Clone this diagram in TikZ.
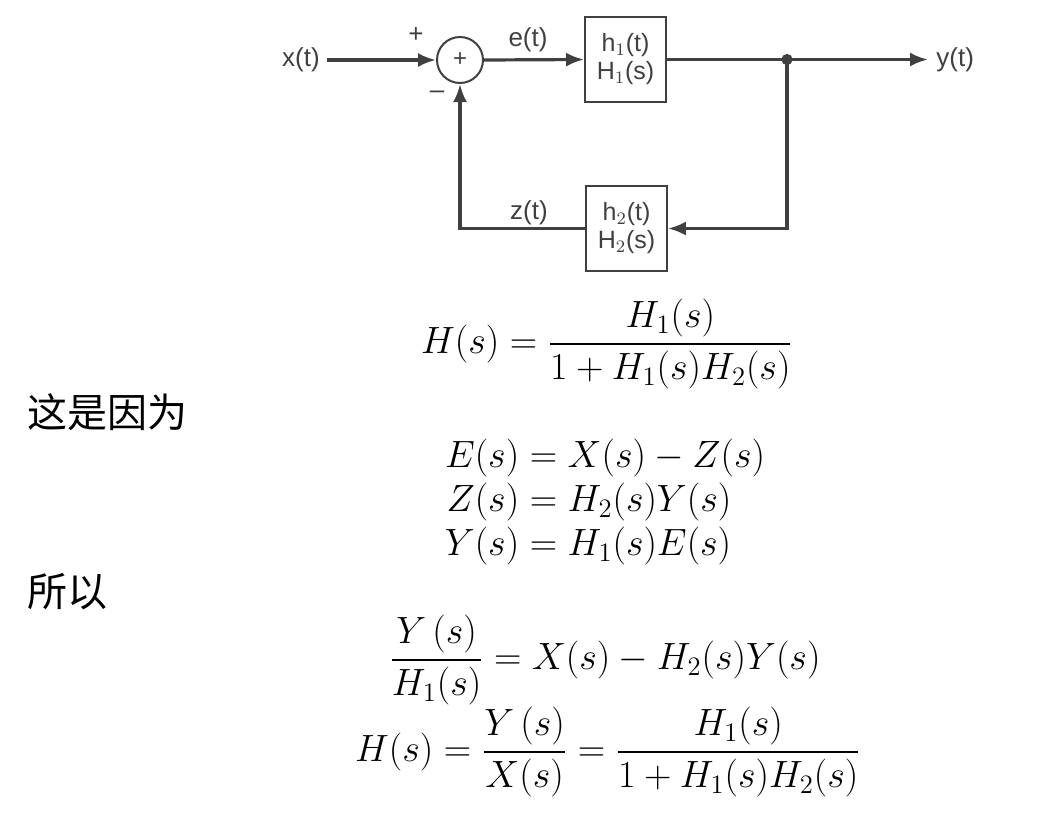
\RequirePackage{fix-cm}
\documentclass[tikz,border=0pt]{standalone}
\usepackage{amsmath}
\usepackage{fontspec}
\setsansfont{Liberation Sans}
\newfontfamily\cjkfont{Noto Sans CJK SC}
\usepackage{tikz}
\usetikzlibrary{positioning}
\usetikzlibrary{arrows.meta}
\usetikzlibrary{calc}

\definecolor{linegray}{HTML}{404040}

\tikzset{
	blk/.style={draw=linegray, line width=0.9pt, minimum width=40.5pt, minimum height=42.5pt,
			inner sep=0pt, align=center, text=linegray, font=\sffamily\fontsize{12.5}{14}\selectfont},
	sumnode/.style={circle, draw=linegray, line width=1pt, minimum size=23pt, inner sep=0pt,
			text=linegray, font=\sffamily\fontsize{12}{14}\selectfont},
	sig/.style={draw=linegray, line width=1.6pt, -{Latex[length=9pt,width=7pt]}},
	lbl/.style={text=linegray, font=\sffamily\fontsize{13}{15}\selectfont},
	eq/.style={font=\fontsize{19}{22}\selectfont},
	cjk/.style={font=\cjkfont\fontsize{20}{22}\selectfont},
}

\begin{document}
\begin{tikzpicture}[x=0.5pt, y=-0.5pt]
		\useasboundingbox (0,0) rectangle (1063,820);

		% Block diagram
		\node[lbl] (xt) at (301,60) {x(t)};
		\node[sumnode] (sum) at (460,60) {+};
		\node[blk] (b1) at (625.5,59.5) {h$_1$(t)\\H$_1$(s)};
		\node[blk] (b2) at (626.5,228.5) {h$_2$(t)\\H$_2$(s)};
		\coordinate (jn) at (787,59.5);
		\node[lbl, anchor=west, inner sep=0pt] (yt) at (936,59.5) {y(t)};

		\draw[sig] (xt.east) -- (sum.west);
		\draw[sig] (sum.east) -- (b1.west);
		\draw[draw=linegray, line width=1.6pt] (b1.east) -- (jn);
		\draw[sig] (jn) -- ([xshift=-4pt]yt.west);
		\fill[linegray] (jn) circle (2.8pt);
		\draw[sig] (jn) |- (b2.east);
		\draw[sig] (b2.west) -| (sum.south);

		% Signs and signal names
		\node[lbl] (plus) at (416,35) {+};
		\node[lbl] (minus) at (437,95) {--};
		\node[lbl] (et) at (528,40) {e(t)};
		\node[lbl] (zt) at (529,213) {z(t)};

		% Equations
		\node[eq] (eqH) at (607,344) {$\displaystyle H(s)=\frac{H_1(s)}{1+H_1(s)H_2(s)}$};
		\node[cjk, anchor=west] (because) at (20,412) {这是因为};
		\node[eq] (eqset) at (605,503) {\jot=0pt$\begin{aligned}
						E(s)&=X(s)-Z(s)\\
						Z(s)&=H_2(s)Y(s)\\
						Y(s)&=H_1(s)E(s)
					\end{aligned}$};
		\node[cjk, anchor=west] (so) at (20,592) {所以};
		\node[eq] (eqY) at (605,660) {$\displaystyle \frac{Y\,(s)}{H_1(s)}=X(s)-H_2(s)Y(s)$};
		\node[eq] (eqfin) at (608,752) {$\displaystyle H(s)=\frac{Y\,(s)}{X(s)}=\frac{H_1(s)}{1+H_1(s)H_2(s)}$};
	\end{tikzpicture}
\end{document}
